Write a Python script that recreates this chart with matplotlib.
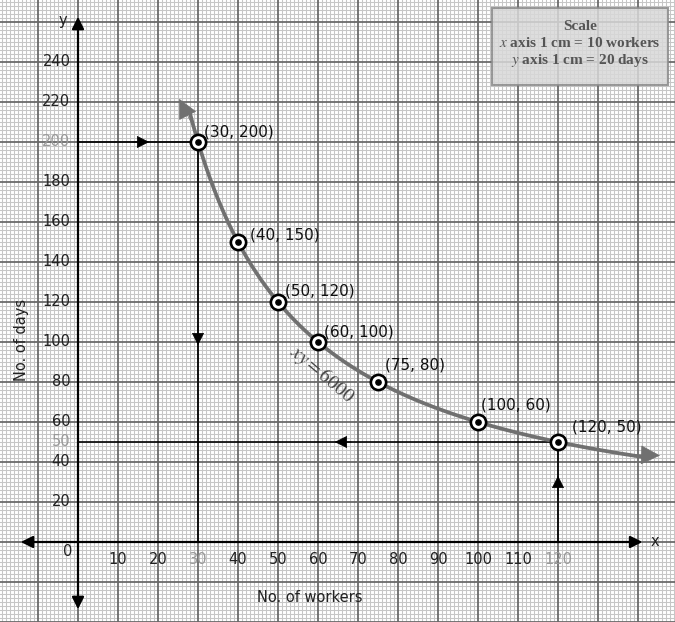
import numpy as np
import matplotlib
matplotlib.use("Agg")
import matplotlib.pyplot as plt
from matplotlib.patches import Rectangle

plt.rcParams["mathtext.fontset"] = "stix"

# ---- data ----
workers = [30, 40, 50, 60, 75, 100, 120]
days = [200, 150, 120, 100, 80, 60, 50]
point_labels = ["(30, 200)", "(40, 150)", "(50, 120)", "(60, 100)", "(75, 80)", "(100, 60)", "(120, 50)"]
x_ticks = [10, 20, 30, 40, 50, 60, 70, 80, 90, 100, 110, 120]
y_ticks = [20, 40, 50, 60, 80, 100, 120, 140, 160, 180, 200, 220, 240]
highlight_x = [30, 120]
highlight_y = [50, 200]
product = 6000
x_label = "No. of workers"
y_label = "No. of days"
scale_lines = ["Scale", "$\\mathit{x}$ axis 1 cm = 10 workers", "$\\mathit{y}$ axis 1 cm = 20 days"]

# ---- figure ----
fig = plt.figure(figsize=(6.75, 6.22), dpi=100)
ax = fig.add_axes([0, 0, 1, 1])
XMIN, XMAX, YMIN, YMAX = -19.5, 149.25, -40, 271
ax.set_xlim(XMIN, XMAX)
ax.set_ylim(YMIN, YMAX)
ax.axis("off")
fig.patch.set_facecolor("white")

# graph paper
for xv in np.arange(-19, 150, 1):
    if xv % 10 == 0:
        continue
    ax.axvline(xv, color="#c6c6c6", lw=0.75, zorder=0)
for yv in np.arange(-40, 272, 2):
    if yv % 20 == 0:
        continue
    ax.axhline(yv, color="#c6c6c6", lw=0.75, zorder=0)
for xv in np.arange(-10, 150, 10):
    ax.axvline(xv, color="#6a6a6a", lw=1.3, zorder=0.5)
for yv in np.arange(-40, 272, 20):
    ax.axhline(yv, color="#6a6a6a", lw=1.3, zorder=0.5)

# main axes with arrows on both ends
arrow_kw = dict(arrowstyle="<|-|>", color="black", lw=1.6, mutation_scale=18)
ax.annotate("", xy=(-15, 0), xytext=(141.8, 0), arrowprops=arrow_kw, zorder=3)
ax.annotate("", xy=(0, 264), xytext=(0, -35), arrowprops=arrow_kw, zorder=3)
ax.text(143.2, 0, "x", fontsize=10.5, va="center", ha="left", color="#222")
ax.text(-2.8, 261, "y", fontsize=10.5, va="center", ha="right", color="#222")

# tick labels
for xt in x_ticks:
    c = "#999999" if xt in highlight_x else "#222222"
    ax.text(xt, -9, str(xt), fontsize=10.5, ha="center", va="center", color=c)
for yt in y_ticks:
    c = "#999999" if yt in highlight_y else "#222222"
    ax.text(-1.9, yt, str(yt), fontsize=10.5, ha="right", va="center", color=c)
ax.text(-1.3, -5, "0", fontsize=10.5, ha="right", va="center", color="#222")

ax.text(-14.2, 101, y_label, fontsize=10.5, rotation=90, ha="center", va="center", color="#222")
ax.text(58, -28, x_label, fontsize=10.5, ha="center", va="center", color="#222")

# guide lines
x0, y0 = workers[0], days[0]
x1, y1 = workers[-1], days[-1]
gl = dict(color="black", lw=1.2, zorder=2)
ax.plot([0, x0], [y0, y0], **gl)
ax.plot([x0, x0], [0, y0], **gl)
ax.plot([0, x1], [y1, y1], **gl)
ax.plot([x1, x1], [0, y1], **gl)
head = dict(arrowstyle="-|>", color="black", lw=0.5, mutation_scale=20)
ax.annotate("", xy=(18.5, y0), xytext=(13, y0), arrowprops=head, zorder=3)
ax.annotate("", xy=(x0, 97), xytext=(x0, 110), arrowprops=head, zorder=3)
ax.annotate("", xy=(63.5, y1), xytext=(69, y1), arrowprops=head, zorder=3)
ax.annotate("", xy=(x1, 34.5), xytext=(x1, 22), arrowprops=head, zorder=3)

# curve xy = 6000
xs = np.linspace(27.8, 143, 400)
curve_color = "#707070"
ax.plot(xs, product / xs, color=curve_color, lw=2.7, zorder=2.5, solid_capstyle="butt")
chead = dict(arrowstyle="-|>", color=curve_color, lw=0.5, mutation_scale=32)
xa = 29.0
ax.annotate("", xy=(25.0, 222.8), xytext=(xa, product / xa), arrowprops=chead, zorder=2.6)
xb = 137
ax.annotate("", xy=(146.2, 43.2), xytext=(xb, product / xb), arrowprops=chead, zorder=2.6)
ax.text(61, 84, "$xy = 6000$", fontsize=14, rotation=-40, ha="center", va="center",
        color="#444444", zorder=3)

# points
ax.plot(workers, days, ls="none", marker="o", ms=11, mfc="white", mec="black", mew=1.9, zorder=4)
ax.plot(workers, days, ls="none", marker="o", ms=3.8, mfc="black", mec="black", zorder=5)
offsets = [(4, 7), (9, 5), (5, 8), (4, 7), (5, 12), (2, 12), (10, 11)]
for xw, yd, lab, off in zip(workers, days, point_labels, offsets):
    ax.annotate(lab, (xw, yd), xytext=off, textcoords="offset points", fontsize=11,
                ha="left", va="center", color="#111", zorder=5)

# scale box
bx0, bx1 = 103.5, 147.5
by0, by1 = 228.5, 267
ax.add_patch(Rectangle((bx0, by0), bx1 - bx0, by1 - by0, facecolor="#d8d8d8", alpha=0.85,
                       edgecolor="#8a8a8a", lw=1.5, zorder=6))
for i, line in enumerate(scale_lines):
    ax.text((bx0 + bx1) / 2, 258 - i * 8.6, line, fontsize=11, ha="center", va="center",
            color="#555555", family="Liberation Serif", weight="bold", zorder=7)

fig.savefig("out.png", dpi=100)
